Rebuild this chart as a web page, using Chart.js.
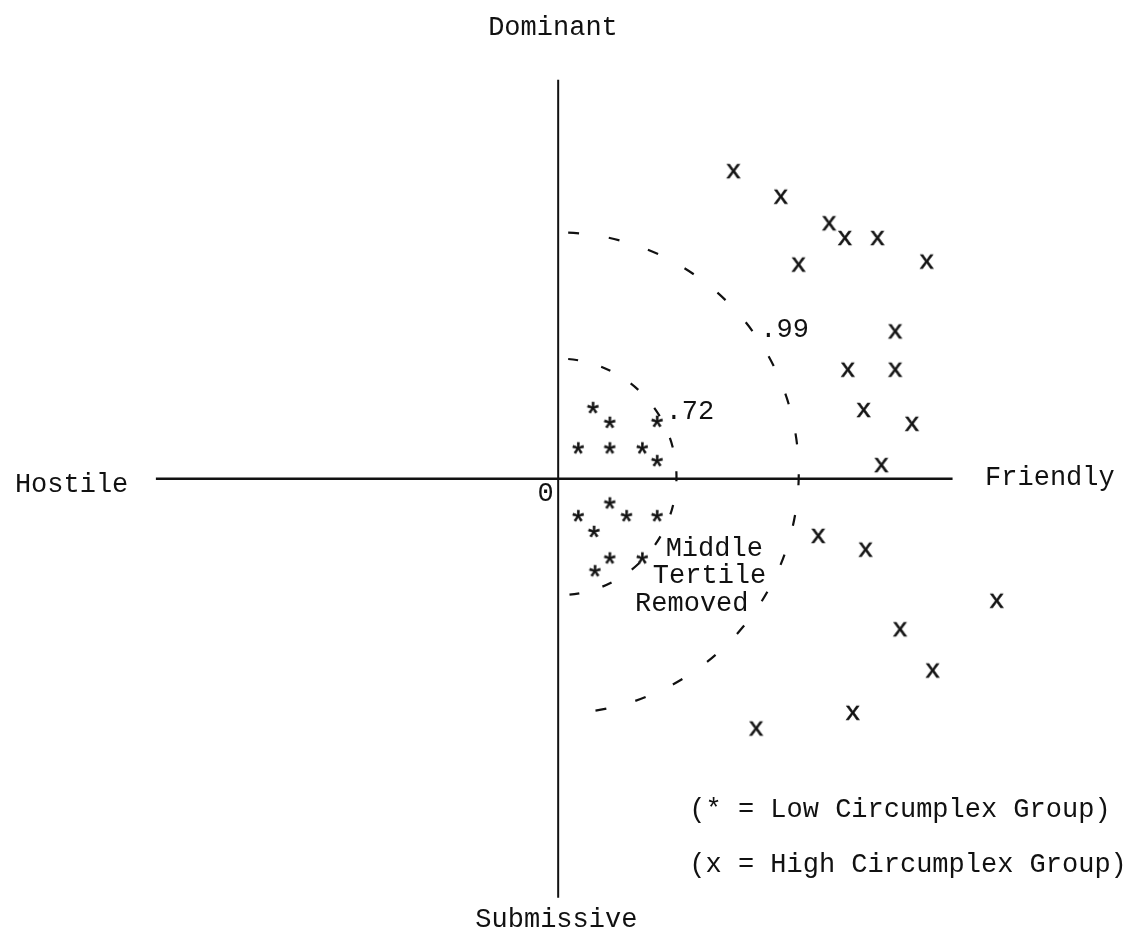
<!DOCTYPE html>
<html>
<head>
<meta charset="utf-8">
<title>Circumplex groups</title>
<script src="https://cdn.jsdelivr.net/npm/chart.js@4.4.1/dist/chart.umd.min.js"></script>
<style>
	html, body { margin:0; padding:0; background:#fff; }
	#wrap { width:1141px; height:942px; position:relative; }
</style>
</head>
<body>
<div id="wrap"><canvas id="circChart"></canvas></div>
<script>
// 저 원형군 (*) 좌표
const lowX = [0.35, 0.52, 1.00, 0.20, 0.52, 0.85, 1.00, 0.52, 0.20, 0.69, 1.00, 0.36, 0.52, 0.85, 0.37];
const lowY = [0.72, 0.57, 0.58, 0.31, 0.31, 0.31, 0.18, -0.25, -0.38, -0.38, -0.38, -0.54, -0.81, -0.81, -0.94];

// 고 원형군 (x) 좌표
const highX = [1.78, 2.26, 2.75, 2.91, 3.24, 2.44, 3.74, 3.42, 2.94, 3.42, 3.10, 3.59, 3.28, 2.64, 3.12, 4.45, 3.47, 3.80, 2.99, 2.01];
const highY = [3.13, 2.87, 2.60, 2.45, 2.45, 2.18, 2.21, 1.50, 1.11, 1.11, 0.70, 0.56, 0.14, -0.58, -0.72, -1.24, -1.53, -1.95, -2.38, -2.54];

// 축 범위
const axisXRange = [-4.08, 4.00];
const axisYRange = [-4.26, 4.06];

// 삼분위 원 (반지름, 중심 y, 라벨)
const circleRadius = [1.20, 2.44];
const circleCenterY = [0.02, 0.06];
const circleLabels = ['.72', '.99'];

const textColor = '#111';
const textFont = '27px "Liberation Mono", "DejaVu Sans Mono", monospace';

/**
 * 글자 모양 마커 만들기
 */
function glyphMarker(ch, size) {
	let c = document.createElement('canvas');
	c.width = 30; c.height = 30;
	let g = c.getContext('2d');
	g.font = size + 'px "Liberation Mono", monospace';
	let m = g.measureText(ch);
	let w = m.actualBoundingBoxLeft + m.actualBoundingBoxRight;
	let h = m.actualBoundingBoxAscent + m.actualBoundingBoxDescent;
	g.fillStyle = textColor;
	g.strokeStyle = textColor;
	g.lineWidth = 0.6;
	let tx = (30 - w) / 2 + m.actualBoundingBoxLeft;
	let ty = (30 - h) / 2 + m.actualBoundingBoxAscent;
	g.fillText(ch, tx, ty);
	g.strokeText(ch, tx, ty);
	return c;
}

let toPoints = (xs, ys) => xs.map((v, i) => ({x: v, y: ys[i]}));

/**
 * 점선 원호 + 텍스트
 */
const circumplexPlugin = {
	id: 'circumplex',
	beforeDatasetsDraw(chart) {
		let ctx = chart.ctx;
		let sx = chart.scales.x, sy = chart.scales.y;
		let cx = sx.getPixelForValue(0);
		ctx.save();
		ctx.strokeStyle = textColor;
		ctx.lineWidth = 2.2;
		ctx.lineCap = 'butt';
		circleRadius.forEach((r, i) => {
			let cy = sy.getPixelForValue(circleCenterY[i]);
			let rp = sx.getPixelForValue(r) - cx;
			ctx.setLineDash(i === 0 ? [10, 24] : [11, 30]);
			ctx.beginPath();
			ctx.arc(cx, cy, rp, -Math.PI / 2 + 10 / rp, Math.PI / 2 - 10 / rp);
			ctx.stroke();
		});
		ctx.restore();
	},
	afterDraw(chart) {
		let ctx = chart.ctx;
		let sx = chart.scales.x, sy = chart.scales.y;
		// 라벨 위치 (데이터 단위)
		let labels = [
			['Dominant', -0.71, 4.52],
			['Submissive', -0.84, -4.56],
			['Hostile', -5.51, -0.13],
			['Friendly', 4.33, -0.06],
			['0', -0.21, -0.23],
			[circleLabels[0], 1.09, 0.61],
			[circleLabels[1], 2.05, 1.44],
			['Middle', 1.09, -0.78],
			['Tertile', 0.96, -1.06],
			['Removed', 0.78, -1.34],
			['(* = Low Circumplex Group)', 1.33, -3.44],
			['(x = High Circumplex Group)', 1.33, -4.00]
		];
		ctx.save();
		ctx.font = textFont;
		ctx.fillStyle = textColor;
		ctx.textAlign = 'left';
		ctx.textBaseline = 'alphabetic';
		labels.forEach((l) => {
			ctx.fillText(l[0], sx.getPixelForValue(l[1]), sy.getPixelForValue(l[2]));
		});
		ctx.restore();
	}
};

let config = {
	type: 'scatter',
	data: {
		datasets: [{
			label: 'Low Circumplex Group',
			data: toPoints(lowX, lowY),
			pointStyle: glyphMarker('*', 31),
			pointRadius: 7
		}, {
			label: 'High Circumplex Group',
			data: toPoints(highX, highY),
			pointStyle: glyphMarker('x', 26),
			pointRadius: 7
		}, {
			label: 'x axis',
			data: [{x: axisXRange[0], y: 0}, {x: axisXRange[1], y: 0}],
			showLine: true,
			borderColor: textColor,
			borderWidth: 2.5,
			pointRadius: 0
		}, {
			label: 'y axis',
			data: [{x: 0, y: axisYRange[0]}, {x: 0, y: axisYRange[1]}],
			showLine: true,
			borderColor: textColor,
			borderWidth: 2,
			pointRadius: 0
		}]
	},
	options: {
		responsive: true,
		maintainAspectRatio: false,
		animation: false,
		events: [],
		layout: { padding: 0 },
		plugins: {
			legend: { display: false },
			tooltip: { enabled: false }
		},
		scales: {
			x: { type: 'linear', min: -5.58, max: 5.83, display: false },
			y: { type: 'linear', min: -4.63, max: 4.79, display: false }
		}
	},
	plugins: [circumplexPlugin]
};

let circChart = new Chart(document.getElementById('circChart'), config);
</script>
</body>
</html>
